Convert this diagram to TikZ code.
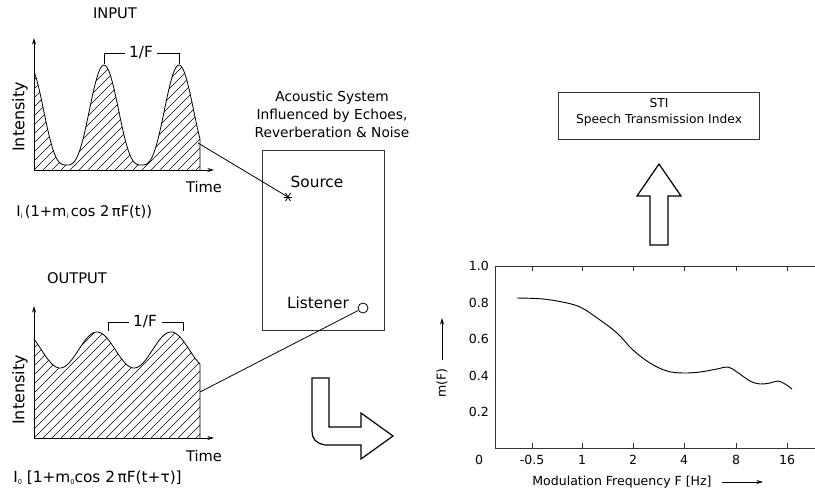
\documentclass[tikz,border=0pt]{standalone}
\usepackage{fontspec}
\setmainfont{DejaVu Sans}
\usetikzlibrary{arrows.meta,calc}
\newcommand\subx[1]{\raisebox{-0.25ex}{\fontsize{5}{5}\selectfont #1}}
\begin{document}
\begin{tikzpicture}[x=0.75pt,y=-0.75pt,
  lbl/.style={font=\fontsize{11}{13}\selectfont,inner sep=0pt},
  small/.style={font=\fontsize{9.4}{11}\selectfont,inner sep=0pt},
  axis/.style={line width=0.75pt,-{Stealth[length=5pt,width=3pt]}},
  thin/.style={line width=0.6pt},
  hatch/.style={line width=0.5pt},
  frame/.style={line width=0.7pt,draw=black!80},
  bigarrow/.style={line width=0.9pt,line join=miter},
  declare function={inv(\x)=max(0.0005,(1+cos(4.8*(\x-104)))/2);
                    inp(\x)=165-100*inv(\x)*sqrt(inv(\x));
                    outp(\x)=350-18*cos(4.865*(\x-97));}]
\useasboundingbox (0,0) rectangle (815,493);

% ---------------- INPUT ----------------
\node[lbl] (input) at (115,13) {INPUT};
\coordinate (iO) at (34,170);
\coordinate (iY) at (34,38);
\coordinate (iX) at (214,170);
\begin{scope}
  \clip (34,170) -- plot[domain=34:200,samples=120] (\x,{inp(\x)}) -- (200,170) -- cycle;
  \foreach \k in {-13,...,19} \draw[hatch] (34+\k*9,170) -- ++(120,-120);
\end{scope}
\draw[thin] plot[domain=34:200,samples=120] (\x,{inp(\x)}) -- (200,170);
\draw[axis] (iO) -- (iY);
\draw[axis] (iO) -- (iX);
\node[lbl,rotate=90,font=\fontsize{12}{14}\selectfont] (iint) at (20,117) {Intensity};
\node[lbl] (itime) at (204,187) {Time};
\draw[thin] (104,64) -- (104,53) -- (125,53);
\draw[thin] (157,53) -- (179,53) -- (179,64);
\node[lbl,font=\fontsize{11.5}{13}\selectfont] (iper) at (141,53) {1/F};
\node[lbl,anchor=west] (iform) at (16,212) {I\subx{i}\,(1+m\subx{i}\,cos 2\,πF(t))};
\coordinate (iend) at (198,143);

% ---------------- OUTPUT ----------------
\node[lbl] (output) at (77,278) {OUTPUT};
\coordinate (oO) at (34,438);
\coordinate (oY) at (34,306);
\coordinate (oX) at (214,438);
\begin{scope}
  \clip (34,438) -- plot[domain=34:200,samples=120] (\x,{outp(\x)}) -- (200,438) -- cycle;
  \foreach \k in {-13,...,19} \draw[hatch] (34+\k*9,438) -- ++(120,-120);
\end{scope}
\draw[thin] plot[domain=34:200,samples=120] (\x,{outp(\x)}) -- (200,438);
\draw[axis] (oO) -- (oY);
\draw[axis] (oO) -- (oX);
\node[lbl,rotate=90,font=\fontsize{12}{14}\selectfont] (oint) at (20,390) {Intensity};
\node[lbl] (otime) at (204,456) {Time};
\draw[thin] (108,331) -- (108,322) -- (129,322);
\draw[thin] (162,322) -- (183,322) -- (183,331);
\node[lbl,font=\fontsize{11.5}{13}\selectfont] (oper) at (145,322) {1/F};
\node[lbl,anchor=west,font=\fontsize{11.5}{13}\selectfont] (oform) at (13,478) {I\subx{0} [1+m\subx{0}cos 2\,πF(t+τ)]};
\coordinate (oend) at (200,392);

% ---------------- ACOUSTIC SYSTEM ----------------
\node[lbl,align=center,font=\fontsize{10.3}{13.5}\selectfont] (systxt) at (332,114) {Acoustic System\\Influenced by Echoes,\\Reverberation \& Noise};
\node[frame,draw,minimum width=91.5pt,minimum height=135pt,inner sep=0pt] (sys) at (323,240) {};
\node[lbl,font=\fontsize{11.5}{13}\selectfont] (srctxt) at (317,182) {Source};
\coordinate (src) at (288,197);
\draw[line width=0.6pt] ($(src)+(-4,0)$) -- ($(src)+(4,0)$);
\draw[line width=0.6pt] ($(src)+(-2.5,-4)$) -- ($(src)+(2.5,4)$);
\draw[line width=0.6pt] ($(src)+(2.5,-4)$) -- ($(src)+(-2.5,4)$);
\node[lbl,font=\fontsize{11.5}{13}\selectfont] (listtxt) at (318,303) {Listener};
\node[draw,circle,thin,minimum size=7.5pt,inner sep=0pt,fill=white] (lis) at (363,308) {};
\draw[thin] (iend) -- (src);
\draw[thin] (oend) -- (lis);

% ---------------- L ARROW ----------------
\draw[bigarrow] (312,378) -- (329,378) -- (329,427) -- (361,427) -- (361,413) -- (393,436) -- (361,459) -- (361,445) -- (325,445) .. controls (316,443) and (312,440) .. (312,430) -- cycle;

% ---------------- GRAPH ----------------
\draw[frame] (815,266) -- (495,266) -- (495,448) -- (815,448);
\foreach \xx/\t [count=\i] in {532/-0.5,582/1,633/2,684/4,736/8,787/16} {
  \draw[frame] (\xx,266) -- (\xx,271);
  \draw[frame] (\xx,448) -- (\xx,443);
  \node[small] (xt\i) at (\xx,460) {\t};
}
\node[small] (x0) at (479,460) {0};
\foreach \yy/\t [count=\i] in {266/1.0,303/0.8,339/0.6,376/0.4,412/0.2} {
  \node[small,anchor=east] (yt\i) at (489,\yy) {\t};
}
\draw[line width=0.7pt] plot[smooth,tension=0.6] coordinates {(517,298) (543,299) (567,303) (582,308) (600,320) (617,333) (633,350) (650,363) (667,371) (683,373) (700,372) (717,369) (728,367) (737,372) (750,381) (760,384) (770,383) (778,381) (785,384) (792,389)};
\node[small,rotate=90] (mf) at (442,383) {m(F)};
\coordinate (mfa) at (442,360);
\coordinate (mfb) at (442,318);
\draw[line width=0.6pt,-{Stealth[length=5pt,width=3pt]}] (mfa) -- (mfb);
\node[small] (modf) at (622,482) {Modulation Frequency F [Hz]};
\coordinate (mda) at (722,482);
\coordinate (mdb) at (763,482);
\draw[line width=0.6pt,-{Stealth[length=5pt,width=3pt]}] (mda) -- (mdb);

% ---------------- STI ----------------
\draw[bigarrow] (650,245) -- (650,196) -- (637,196) -- (659,164) -- (681,196) -- (668,196) -- (668,245) -- cycle;
\node[frame,draw,minimum width=150.75pt,minimum height=35.25pt,inner sep=0pt] (sti) at (658.5,115.5) {};
\node[align=center,inner sep=0pt,font=\fontsize{9.2}{12}\selectfont] (stitxt) at (659,112) {STI\\Speech Transmission Index};
\end{tikzpicture}
\end{document}
